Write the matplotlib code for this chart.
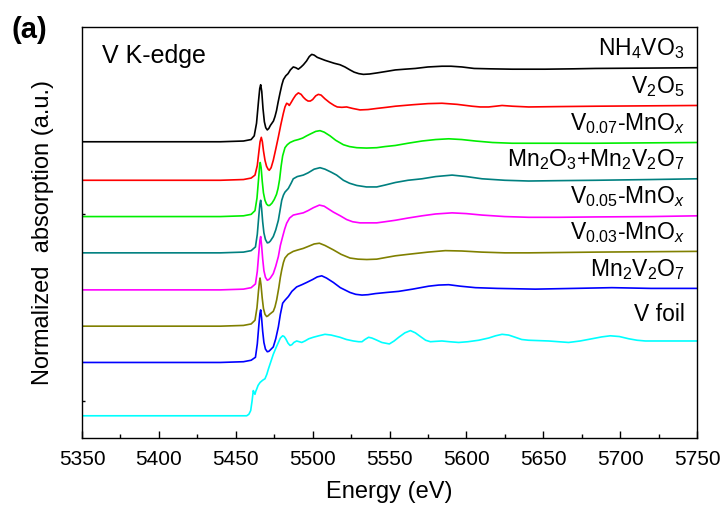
import numpy as np
import matplotlib
matplotlib.use('Agg')
import matplotlib.pyplot as plt
from matplotlib.ticker import MultipleLocator

plt.rcParams['font.family'] = ['Liberation Sans', 'DejaVu Sans']
plt.rcParams['mathtext.fontset'] = 'custom'
plt.rcParams['mathtext.rm'] = 'Liberation Sans'
plt.rcParams['mathtext.it'] = 'Liberation Sans:italic'

# V K-edge XANES, normalized absorption (edge step = 1)
e_nh4vo3 = [5350, 5440, 5455, 5460, 5462, 5463.5, 5464.8, 5465.6, 5466.2, 5466.9, 5467.7, 5468.6,
            5469.5, 5470.5, 5471.5, 5472.5, 5473.5, 5474.5, 5475.5, 5476.5, 5477.5, 5478.8, 5480,
            5481, 5482.5, 5484, 5485.5, 5487.4, 5489, 5490.7, 5492.5, 5494, 5496, 5497.8, 5499.4,
            5501, 5503, 5505.5, 5508, 5511, 5514, 5517.8, 5521, 5524.3, 5527, 5530, 5533, 5537,
            5542, 5548, 5553.8, 5560, 5566.8, 5575, 5584.1, 5590, 5597.1, 5605, 5615, 5629.7,
            5651.3, 5670, 5683.9, 5720, 5750]
mu_nh4vo3 = [0, 0, 0.01, 0.03, 0.08, 0.25, 0.55, 0.72, 0.77, 0.68, 0.45, 0.27,
             0.19, 0.16, 0.18, 0.22, 0.25, 0.28, 0.34, 0.42, 0.53, 0.66, 0.77,
             0.84, 0.89, 0.92, 0.97, 1.01, 1.0, 0.98, 1.01, 1.04, 1.09, 1.15, 1.18,
             1.17, 1.14, 1.12, 1.10, 1.08, 1.06, 1.04, 1.01, 0.97, 0.94, 0.92, 0.91, 0.915,
             0.93, 0.95, 0.97, 0.98, 0.99, 1.01, 1.02, 1.02, 1.01, 0.99, 0.985, 0.98,
             0.98, 0.985, 0.99, 0.995, 1.0]

e_v2o5 = [5350, 5440, 5455, 5460, 5462.5, 5464, 5465, 5465.8, 5466.6, 5467.3, 5468, 5469, 5470,
          5471, 5471.8, 5473, 5474.4, 5476, 5477.7, 5479.3, 5480.9, 5482, 5483.1, 5484, 5484.8,
          5486, 5487.4, 5489, 5490.7, 5492.5, 5494, 5495.5, 5497, 5498.5, 5500, 5502, 5503.7,
          5505.5, 5508, 5511, 5514, 5516, 5519, 5522.1, 5526, 5530.8, 5536, 5541.7, 5548,
          5553.8, 5565, 5575, 5584.1, 5594, 5603.7, 5609, 5614.5, 5619, 5623.2, 5630, 5640.5,
          5660, 5683.9, 5750]
mu_v2o5 = [0, 0, 0.01, 0.03, 0.07, 0.2, 0.38, 0.52, 0.58, 0.52, 0.4, 0.27, 0.19,
           0.15, 0.135, 0.17, 0.27, 0.42, 0.585, 0.75, 0.90, 0.99, 1.04, 1.03, 1.01,
           1.05, 1.10, 1.15, 1.18, 1.16, 1.12, 1.09, 1.07, 1.07, 1.09, 1.14, 1.16,
           1.15, 1.10, 1.05, 1.01, 0.99, 0.985, 0.99, 0.97, 0.95, 0.955, 0.97, 0.985,
           1.0, 1.02, 1.035, 1.04, 1.025, 1.0, 0.99, 0.99, 1.0, 1.01, 1.0, 0.99,
           0.995, 1.0, 1.01]

e_v007 = [5350, 5440, 5455, 5460, 5462.5, 5463.8, 5464.8, 5465.5, 5465.9, 5466.5, 5467.2, 5468,
          5469, 5470, 5471, 5472, 5473.5, 5475, 5476.5, 5477.5, 5478.5, 5479.5, 5480.5, 5482,
          5483.5, 5485.3, 5488, 5490.7, 5493.5, 5496.1, 5499, 5502, 5504.8, 5507.5, 5511.3,
          5515, 5520, 5524, 5528.7, 5535, 5541.7, 5547, 5553.8, 5562, 5571.1, 5580, 5588.5,
          5597, 5605.9, 5617, 5629.7, 5660, 5683.9, 5750]
mu_v007 = [0, 0, 0.01, 0.03, 0.08, 0.25, 0.5, 0.68, 0.73, 0.66, 0.48, 0.32,
           0.22, 0.17, 0.15, 0.15, 0.18, 0.23, 0.3, 0.38, 0.5, 0.68, 0.82, 0.93,
           0.97, 1.0, 1.025, 1.04, 1.06, 1.09, 1.12, 1.15, 1.16, 1.14, 1.09,
           1.03, 0.97, 0.945, 0.93, 0.925, 0.93, 0.945, 0.96, 0.99, 1.02, 1.04, 1.05,
           1.04, 1.02, 1.0, 0.99, 0.99, 0.99, 1.0]

e_mix = [5350, 5440, 5455, 5460, 5462.8, 5464, 5465, 5465.7, 5466.2, 5466.8, 5467.5, 5468.3,
         5469.3, 5470.5, 5471.5, 5472.5, 5474.4, 5476, 5477.7, 5479, 5479.9, 5481, 5482, 5484.2,
         5486, 5487.4, 5490, 5493.9, 5497, 5501, 5504.8, 5508, 5512, 5515.6, 5520, 5524, 5528.7,
         5535, 5541.7, 5547, 5553.8, 5562, 5571.1, 5580, 5590.7, 5600, 5610.2, 5625, 5640.5,
         5660, 5683.9, 5720, 5750]
mu_mix = [0, 0, 0.01, 0.03, 0.08, 0.25, 0.5, 0.66, 0.71, 0.6, 0.42, 0.27,
          0.18, 0.135, 0.14, 0.16, 0.22, 0.31, 0.44, 0.6, 0.71, 0.78, 0.82, 0.87,
          0.94, 1.0, 1.03, 1.05, 1.08, 1.13, 1.15, 1.13, 1.09, 1.05, 0.98, 0.94, 0.91,
          0.89, 0.89, 0.915, 0.95, 0.98, 1.0, 1.03, 1.05, 1.03, 1.0, 0.98, 0.97,
          0.975, 0.98, 0.99, 1.0]

e_v005 = [5350, 5440, 5455, 5460, 5462.8, 5464, 5465, 5465.7, 5466.2, 5466.8, 5467.5, 5468.3,
          5469.3, 5470.5, 5471.5, 5472.5, 5474.4, 5476, 5477.7, 5479, 5480.5, 5481.8, 5483.1,
          5485, 5487.4, 5490.5, 5493.9, 5497, 5500.5, 5504.4, 5507.5, 5510.5, 5513.5, 5518,
          5522.1, 5526, 5530.8, 5541.7, 5547, 5553.8, 5562, 5571.1, 5580, 5590.7, 5600,
          5610.2, 5625, 5640.5, 5660, 5683.9, 5720, 5750]
mu_v005 = [0, 0, 0.01, 0.03, 0.08, 0.25, 0.5, 0.67, 0.72, 0.6, 0.42, 0.26,
           0.17, 0.13, 0.14, 0.16, 0.22, 0.32, 0.45, 0.6, 0.72, 0.82, 0.90,
           0.97, 1.01, 1.025, 1.04, 1.07, 1.11, 1.145, 1.13, 1.09, 1.05, 1.0,
           0.95, 0.92, 0.905, 0.905, 0.92, 0.94, 0.97, 1.0, 1.025, 1.04, 1.03,
           1.01, 0.99, 0.98, 0.98, 0.985, 0.99, 1.0]

e_v003 = [5350, 5440, 5455, 5460, 5462.5, 5463.8, 5464.8, 5465.4, 5465.8, 5466.4, 5467.2, 5468,
          5469, 5470.1, 5471, 5472, 5474.4, 5475.5, 5476.6, 5478, 5479, 5479.9, 5481, 5482,
          5484, 5487.4, 5490.5, 5493.9, 5497.5, 5501, 5504.4, 5508, 5513.5, 5518.5, 5524.3,
          5529.5, 5535.2, 5541.7, 5547, 5553.8, 5562, 5575, 5586.3, 5597, 5610, 5625, 5640.5,
          5683.9, 5750]
mu_v003 = [0, 0, 0.01, 0.03, 0.08, 0.25, 0.48, 0.6, 0.65, 0.56, 0.38, 0.24,
           0.16, 0.13, 0.14, 0.16, 0.20, 0.26, 0.355, 0.52, 0.66, 0.76, 0.86, 0.92,
           0.97, 1.01, 1.03, 1.05, 1.08, 1.11, 1.12, 1.09, 1.03, 0.97, 0.92,
           0.905, 0.90, 0.905, 0.925, 0.95, 0.97, 1.0, 1.02, 1.015, 1.0, 0.99, 0.99,
           1.0, 1.01]

e_mn2v2o7 = [5350, 5440, 5455, 5460, 5462.8, 5464, 5465, 5465.7, 5466.2, 5466.8, 5467.5,
             5468.3, 5469.3, 5470.5, 5471.5, 5472.5, 5474.4, 5476, 5477.7, 5479, 5480.5, 5482,
             5484.2, 5486.5, 5489.6, 5493, 5496.1, 5500, 5503, 5505.9, 5509, 5513.5, 5518,
             5524.3, 5528, 5532.1, 5536, 5540.8, 5548, 5556, 5565, 5575.5, 5582, 5588.5, 5596,
             5605.9, 5620, 5644.8, 5670, 5694.7, 5720, 5750]
mu_mn2v2o7 = [0, 0, 0.01, 0.03, 0.07, 0.25, 0.5, 0.66, 0.71, 0.6, 0.42,
              0.27, 0.18, 0.145, 0.15, 0.17, 0.21, 0.32, 0.48, 0.65, 0.80, 0.84,
              0.89, 0.96, 1.02, 1.05, 1.08, 1.12, 1.155, 1.17, 1.14, 1.08, 1.01,
              0.945, 0.92, 0.91, 0.915, 0.93, 0.945, 0.96, 0.99, 1.03, 1.045, 1.05, 1.03,
              1.01, 1.0, 0.99, 1.0, 1.01, 1.0, 1.0]

e_vfoil = [5350, 5440, 5457.1, 5458.5, 5459.7, 5460.6, 5461.4, 5462, 5462.5, 5463, 5463.6, 5464.5,
           5465.8, 5467.5, 5469, 5470.2, 5471.2, 5472.8, 5474.4, 5476, 5477.7, 5479, 5480.5,
           5481.5, 5482.5, 5484, 5485.3, 5486.5, 5487.8, 5489.6, 5491.3, 5492.9, 5495, 5497.5,
           5500.4, 5504, 5508, 5512, 5517.8, 5522, 5526.5, 5530, 5532.1, 5534, 5536.4, 5538.5,
           5540.8, 5545, 5549.9, 5553, 5556, 5560, 5563.6, 5566.8, 5570.1, 5573.5, 5576.6, 5580,
           5584.1, 5589, 5595, 5601, 5608, 5614.5, 5619, 5623.2, 5627.5, 5631.8, 5636, 5640.5,
           5653.5, 5660, 5666.5, 5674, 5681.7, 5688, 5693.6, 5699.5, 5705.6, 5711, 5716.4,
           5730, 5750]
mu_vfoil = [0, 0, 0.0, 0.02, 0.07, 0.2, 0.34, 0.31, 0.29, 0.33, 0.36, 0.41,
            0.45, 0.48, 0.50, 0.56, 0.63, 0.73, 0.83, 0.91, 0.99, 1.05, 1.08,
            1.07, 1.04, 0.98, 0.95, 0.96, 0.99, 1.01, 1.0, 0.99, 1.01, 1.04,
            1.06, 1.08, 1.10, 1.09, 1.06, 1.03, 1.01, 1.0, 1.0, 1.03, 1.06, 1.05,
            1.03, 0.99, 0.97, 1.01, 1.06, 1.12, 1.15, 1.12, 1.07, 1.02, 1.0, 1.005,
            1.01, 1.0, 0.99, 1.0, 1.02, 1.05, 1.08, 1.10, 1.09, 1.06, 1.03, 1.02,
            1.01, 1.0, 0.99, 1.01, 1.04, 1.065, 1.08, 1.07, 1.04, 1.02, 1.01,
            1.01, 1.01]

names = ['NH$_4$VO$_3$', 'V$_2$O$_5$', 'V$_{0.07}$-MnO$_x$', 'Mn$_2$O$_3$+Mn$_2$V$_2$O$_7$',
         'V$_{0.05}$-MnO$_x$', 'V$_{0.03}$-MnO$_x$', 'Mn$_2$V$_2$O$_7$', 'V foil']
energies = [e_nh4vo3, e_v2o5, e_v007, e_mix, e_v005, e_v003, e_mn2v2o7, e_vfoil]
spectra = [mu_nh4vo3, mu_v2o5, mu_v007, mu_mix, mu_v005, mu_v003, mu_mn2v2o7, mu_vfoil]
offsets = [3.70, 3.18, 2.69, 2.20, 1.70, 1.21, 0.72, 0.0]
colors = ['black', 'red', '#00ee00', '#008080', '#ff00ff', '#808000', '#0000ff', '#00ffff']

fig = plt.figure(figsize=(7.24, 5.08), dpi=100)
ax = fig.add_axes([0.1133, 0.1378, 0.8494, 0.8091])

for e, mu, off, c, name in zip(energies, spectra, offsets, colors, names):
    ax.plot(e, np.array(mu) + off, color=c, lw=1.2, solid_joinstyle='round')
    dy = 0.27 if name == 'V foil' else 0.17
    ax.text(5742, off + mu[-1] + dy, name, ha='right', va='baseline', fontsize=16.5)

ax.text(5363, 4.77, 'V K-edge', fontsize=18, va='baseline')
fig.text(0.016, 0.925, '(a)', fontsize=21, fontweight='bold')

ax.set_xlim(5350, 5750)
ax.set_ylim(-0.30, 5.25)
ax.xaxis.set_major_locator(MultipleLocator(50))
ax.xaxis.set_minor_locator(MultipleLocator(25))
ax.set_yticks([0.2, 2.73])
ax.set_yticklabels([])
ax.tick_params(axis='x', which='major', direction='in', length=5, width=1, labelsize=15, pad=8.5)
ax.tick_params(axis='x', which='minor', direction='in', length=3, width=1)
ax.tick_params(axis='y', direction='in', length=2.5, width=1)
for s in ax.spines.values():
    s.set_linewidth(1.0)

ax.set_xlabel('Energy (eV)', fontsize=17, labelpad=9)
ax.set_ylabel('Normalized  absorption (a.u.)', fontsize=17, labelpad=17)

fig.savefig('out.png', dpi=100)
